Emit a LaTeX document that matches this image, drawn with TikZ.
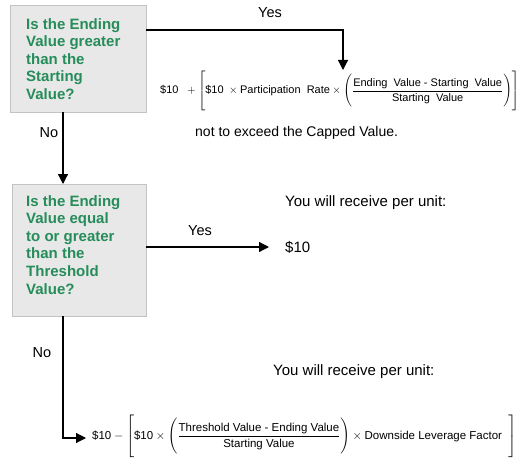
\documentclass[tikz,border=0pt]{standalone}
\usepackage{amsmath}
\usepackage{fontspec}
\setmainfont{Liberation Sans}
\usetikzlibrary{arrows.meta}
\definecolor{qgreen}{RGB}{38,140,90}
\definecolor{boxfill}{RGB}{232,232,232}
\definecolor{boxline}{RGB}{195,195,195}
\tikzset{
  qbox/.style={draw=boxline, fill=boxfill, line width=0.8pt},
  qtext/.style={anchor=north west, inner sep=0pt, align=left, text=qgreen,
    font=\fontsize{15}{17.6}\selectfont\bfseries},
  lbl/.style={inner sep=0pt, font=\fontsize{14.5}{17}\selectfont},
  conn/.style={line width=1.2pt, -{Triangle[length=10pt,width=10pt]}},
  formula/.style={inner sep=0pt, font=\fontsize{11}{13}\selectfont}
}
\begin{document}
\begin{tikzpicture}[x=1pt,y=-1pt]
\clip (0,0) rectangle (521,457);
\useasboundingbox (0,0) rectangle (521,457);
\fill[white] (0,0) rectangle (521,457);
% boxes
\draw[qbox] (10,5) rectangle (146,112);
\node[qtext] (q1) at (26,18) {Is the Ending\\Value greater\\than the\\Starting\\Value?};
\draw[qbox] (12,184) rectangle (146,316);
\node[qtext] (q2) at (26,195) {Is the Ending\\Value equal\\to or greater\\than the\\Threshold\\Value?};
\coordinate (b1r) at (146,30);
\coordinate (b1b) at (63,112);
\coordinate (b2t) at (63,184);
\coordinate (b2r) at (146,247);
\coordinate (b2b) at (63,316);
% formula 1
\node[formula, anchor=west] (f1) at (160,91) {$\text{\$10}\ \ +\left[\rule[-17pt]{0pt}{39pt}\text{\$10 }\times\text{Participation\ \ Rate}\times\left(\rule[-14pt]{0pt}{31pt}\dfrac{\text{Ending\ \ Value - Starting\ \ Value}}{\text{Starting\ \ Value}}\right)\right]$};
\coordinate (f1t) at (343,70);
\node[lbl, font=\fontsize{14}{16}\selectfont, anchor=west] (cap) at (195,133) {not to exceed the Capped Value.};
\node[lbl] (yes1) at (270,13) {Yes};
\node[lbl] (no1) at (49,133) {No};
\draw[conn] (b1r) -| (f1t);
\draw[conn] (b1b) -- (b2t);
% second yes
\node[lbl, font=\fontsize{15}{17}\selectfont, anchor=west] (r1) at (285,203) {You will receive per unit:};
\node[lbl, font=\fontsize{15}{17}\selectfont, anchor=west] (ten) at (285,247) {\$10};
\node[lbl] (yes2) at (200,231) {Yes};
\draw[conn] (b2r) -- (ten.west -| 269,0);
% second no
\node[lbl] (no2) at (42,353) {No};
\node[lbl, font=\fontsize{15}{17}\selectfont, anchor=west] (r2) at (273,372) {You will receive per unit:};
\node[formula, font=\fontsize{11.5}{13}\selectfont, anchor=west] (f2) at (92,437) {$\text{\$10}-\left[\rule[-20pt]{0pt}{42pt}\text{\$10}\times\left(\rule[-16pt]{0pt}{34pt}\dfrac{\text{Threshold Value - Ending Value}}{\text{Starting Value}}\right)\times\text{Downside Leverage Factor}\ \ \right]$};
\coordinate (f2in) at (86,438);
\draw[conn] (b2b) |- (f2in);
\end{tikzpicture}
\end{document}
